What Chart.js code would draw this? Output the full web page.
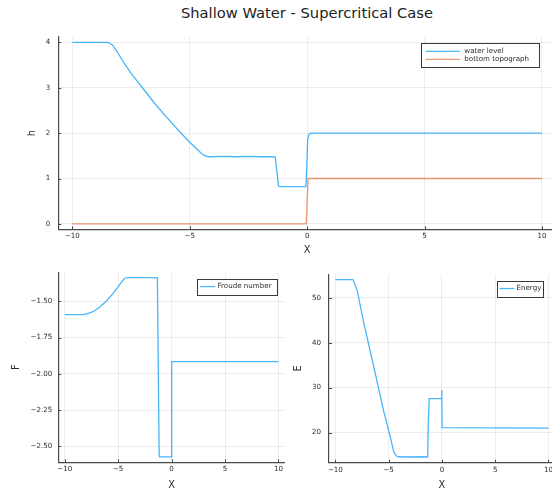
<html lang="en">

<head>
    <meta charset="UTF-8">
    <title>Shallow Water - Supercritical Case</title>
    <script src="https://cdn.jsdelivr.net/npm/chart.js"></script>
    <style>
        body { margin: 0; background: #fff; overflow: hidden; }
        #wrap { position: relative; width: 552px; height: 490px; overflow: hidden; }
        #wrap canvas { position: absolute; }
        #title {
            position: absolute; left: 0; width: 614px; top: 4px; text-align: center;
            font: 14.7px "DejaVu Sans"; color: #222;
        }
    </style>
</head>

<body>
    <div id="wrap">
        <div id="title">Shallow Water - Supercritical Case</div>
        <canvas id="hChart" width="556" height="262" style="left:0;top:0"></canvas>
        <canvas id="fChart" width="286" height="235" style="left:0;top:262px"></canvas>
        <canvas id="eChart" width="266" height="235" style="left:290px;top:262px"></canvas>
    </div>

    <script>
        // water level
        const waterX = [-10, -8.5, -8.3, -8.1, -7.8, -7.5, -7.0, -6.5, -6.0, -5.5, -5.0, -4.7, -4.5, -4.35, -4.2, -3.5, -3.0, -2.5, -2.0, -1.5, -1.36, -1.3, -1.22, -1.15, -0.5, -0.05, -0.02, 0.02, 0.07, 0.15, 10];
        const waterY = [4, 4, 3.95, 3.8, 3.55, 3.32, 2.99, 2.66, 2.36, 2.07, 1.8, 1.65, 1.55, 1.5, 1.48, 1.49, 1.48, 1.49, 1.48, 1.48, 1.47, 1.2, 0.84, 0.82, 0.82, 0.82, 1.2, 1.85, 1.97, 2.0, 2.0];
        // bottom topograph
        const bottomX = [-10, -0.04, 0.04, 10];
        const bottomY = [0, 0, 1, 1];
        // Froude number
        const froudeX = [-10, -8.3, -8.21, -7.8, -7.34, -6.72, -6.09, -5.47, -4.85, -4.5, -4.38, -4.2, -3, -2, -1.33, -1.16, -1.1, -0.5, -0.05, 0.0, 0.03, 10];
        const froudeY = [-1.591, -1.591, -1.59, -1.583, -1.571, -1.539, -1.498, -1.445, -1.384, -1.35, -1.34, -1.336, -1.336, -1.336, -1.337, -2.57, -2.573, -2.573, -2.573, -2.2, -1.916, -1.916];
        // Energy
        const energyX = [-10, -8.4, -8.33, -7.96, -7.34, -6.72, -6.09, -5.48, -4.85, -4.54, -4.32, -4.1, -3, -2, -1.4, -1.34, -1.28, -1.2, -0.5, -0.09, -0.04, -0.02, 0.0, 0.02, 10];
        const energyY = [54.07, 54.07, 54.0, 51.7, 44.5, 38.0, 31.4, 24.9, 19.1, 15.8, 14.86, 14.6, 14.55, 14.6, 14.55, 14.6, 22, 27.56, 27.56, 27.56, 27.6, 29.45, 29.2, 21.1, 21.0];

        const xTicks = [-10, -5, 0, 5, 10];
        const hTicks = [0, 1, 2, 3, 4];
        const fTicks = [-1.5, -1.75, -2.0, -2.25, -2.5];
        const eTicks = [20, 30, 40, 50];

        const FONT = 'DejaVu Sans';
        const AXIS = '#4a4a4a';
        const BLUE = 'rgba(0, 154, 250, 0.72)';
        const ORANGE = 'rgba(227, 111, 71, 0.72)';

        const pts = (xs, ys) => xs.map((x, i) => ({ x: x, y: ys[i] }));
        const minus = s => String(s).replace('-', '\u2212');

        // plots.jl style: inward tick marks and a boxed legend in the top right corner
        const plotsFrame = {
            id: 'plotsFrame',
            afterDatasetsDraw(chart) {
                const { ctx, chartArea, scales } = chart;
                ctx.save();
                ctx.strokeStyle = AXIS;
                ctx.lineWidth = 1;
                ctx.beginPath();
                scales.x.ticks.forEach(t => {
                    const px = Math.round(scales.x.getPixelForValue(t.value)) + 0.5;
                    ctx.moveTo(px, chartArea.bottom);
                    ctx.lineTo(px, chartArea.bottom - 3);
                });
                scales.y.ticks.forEach(t => {
                    const py = Math.round(scales.y.getPixelForValue(t.value)) + 0.5;
                    ctx.moveTo(chartArea.left, py);
                    ctx.lineTo(chartArea.left + 3, py);
                });
                ctx.stroke();
                ctx.restore();
            },
            afterDraw(chart, args, o) {
                const { ctx, chartArea } = chart;
                const sets = chart.data.datasets;
                ctx.save();
                ctx.font = '7.1px "' + FONT + '"';
                const textW = Math.max(...sets.map(d => ctx.measureText(d.label).width));
                const w = o.padL + o.sample + o.gap + textW + o.padR;
                const h = sets.length * 8 + 8;
                const x0 = chartArea.right - o.right - w;
                const y0 = chartArea.top + o.top;
                ctx.fillStyle = '#fff';
                ctx.fillRect(x0, y0, w, h);
                ctx.strokeStyle = '#3a3a3a';
                ctx.lineWidth = 1;
                ctx.strokeRect(Math.round(x0) + 0.5, Math.round(y0) + 0.5, Math.round(w), Math.round(h));
                sets.forEach((d, i) => {
                    const y = y0 + 4 + 8 * i + 4;
                    ctx.strokeStyle = d.borderColor;
                    ctx.lineWidth = 1.3;
                    ctx.beginPath();
                    ctx.moveTo(x0 + o.padL, y);
                    ctx.lineTo(x0 + o.padL + o.sample, y);
                    ctx.stroke();
                    ctx.fillStyle = '#2b2b2b';
                    ctx.textBaseline = 'middle';
                    ctx.fillText(d.label, x0 + o.padL + o.sample + o.gap, y);
                });
                ctx.restore();
            }
        };

        function makeChart(id, sets, cfg) {
            return new Chart(document.getElementById(id), {
                type: 'scatter',
                data: {
                    datasets: sets.map(s => ({
                        label: s.label,
                        data: s.data,
                        showLine: true,
                        borderColor: s.color,
                        borderWidth: 1.3,
                        pointRadius: 0,
                        tension: 0
                    }))
                },
                options: {
                    responsive: false,
                    animation: false,
                    devicePixelRatio: 1,
                    layout: { autoPadding: false, padding: cfg.padding },
                    plugins: { legend: { display: false }, tooltip: { enabled: false }, plotsFrame: cfg.legend },
                    scales: {
                        x: {
                            type: 'linear', min: -10.6, max: 10.6,
                            afterBuildTicks: s => { s.ticks = xTicks.map(v => ({ value: v })); },
                            afterFit: s => { s.height = cfg.xHeight; },
                            grid: { color: 'rgba(0,0,0,0.07)', drawTicks: false },
                            border: { color: AXIS, width: 1.2 },
                            ticks: { padding: 3, color: '#2b2b2b', font: { family: FONT, size: 7.1 }, maxRotation: 0, callback: v => minus(v) },
                            title: { display: true, text: 'X', color: '#2b2b2b', font: { family: FONT, size: 9.8 }, padding: { top: 0, bottom: 6 } }
                        },
                        y: {
                            type: 'linear', min: cfg.yMin, max: cfg.yMax,
                            afterBuildTicks: s => { s.ticks = cfg.yTicks.map(v => ({ value: v })); },
                            afterFit: s => { s.width = cfg.yWidth; },
                            grid: { color: 'rgba(0,0,0,0.07)', drawTicks: false },
                            border: { color: AXIS, width: 1.2 },
                            ticks: { padding: cfg.tickPad, color: '#2b2b2b', font: { family: FONT, size: 7.1 }, callback: cfg.fmt },
                            title: { display: true, text: cfg.yTitle, color: '#2b2b2b', font: { family: FONT, size: 9.8 }, padding: { top: cfg.yTitlePad, bottom: 0 } }
                        }
                    }
                },
                plugins: [plotsFrame]
            });
        }

        makeChart('hChart', [
            { label: 'water level', data: pts(waterX, waterY), color: BLUE },
            { label: 'bottom topograph', data: pts(bottomX, bottomY), color: ORANGE }
        ], {
            padding: { top: 37, right: 0, left: 0, bottom: 0 },
            xHeight: 32.7, yWidth: 58.3, yMin: -0.12, yMax: 4.12, yTicks: hTicks,
            tickPad: 8, fmt: v => minus(v), yTitle: 'h', yTitlePad: 26.5,
            legend: { right: 17, top: 6.3, padL: 5, sample: 34, gap: 4.6, padR: 10 }
        });

        makeChart('fChart', [
            { label: 'Froude number', data: pts(froudeX, froudeY), color: BLUE }
        ], {
            padding: { top: 9, right: 0.6, left: 0, bottom: 0 },
            xHeight: 34.7, yWidth: 58.3, yMin: -2.61, yMax: -1.299, yTicks: fTicks,
            tickPad: 6, fmt: v => minus(v.toFixed(2)), yTitle: 'F', yTitlePad: 10.8,
            legend: { right: 7.4, top: 6.3, padL: 3, sample: 15, gap: 2.3, padR: 6 }
        });

        makeChart('eChart', [
            { label: 'Energy', data: pts(energyX, energyY), color: BLUE }
        ], {
            padding: { top: 9, right: 0.9, left: 0, bottom: 0 },
            xHeight: 34.3, yWidth: 39, yMin: 13.28, yMax: 55.26, yTicks: eTicks,
            tickPad: 8, fmt: v => minus(v), yTitle: 'E', yTitlePad: 2.4,
            legend: { right: 12, top: 6.3, padL: 3, sample: 15, gap: 2, padR: 1.5 }
        });
    </script>
</body>

</html>
